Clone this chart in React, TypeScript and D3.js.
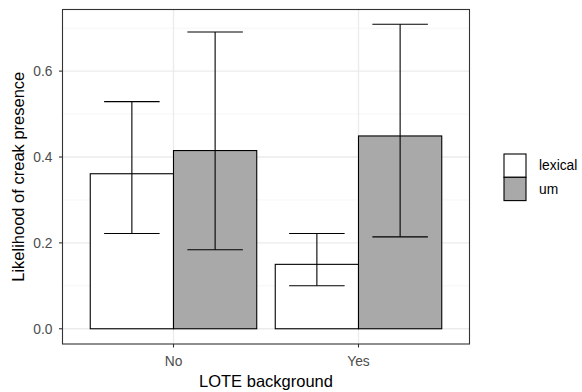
import React from "react";
import * as d3 from "d3";

const categories = ["No", "Yes"];
const groups = ["lexical", "um"];
const means = [
  [0.361, 0.415],
  [0.150, 0.449],
];
const lower = [
  [0.222, 0.184],
  [0.100, 0.214],
];
const upper = [
  [0.529, 0.691],
  [0.222, 0.709],
];
const yTicks = [0, 0.2, 0.4, 0.6];
const yMinor = [0.1, 0.3, 0.5, 0.7];
const fills = ["#FFFFFF", "#A9A9A9"];

const width = 582;
const height = 392;
const panel = { left: 62.5, right: 469.5, top: 9.5, bottom: 344 };
const font = "'Liberation Sans', Arial, Helvetica, sans-serif";

const App = () => {
  const x = d3
    .scalePoint()
    .domain(categories)
    .range([panel.left, panel.right])
    .padding(0.6);
  const unit = x.step();
  const yScale = d3
    .scaleLinear()
    .domain([-0.0355, 0.7435])
    .range([panel.bottom, panel.top]);
  const barW = (unit * 0.9) / groups.length;
  const errW = unit * 0.3;

  return (
    <svg
      width={width}
      height={height}
      style={{ position: "absolute", left: 0, top: 0, background: "#fff" }}
      fontFamily={font}
    >
      {/* grid */}
      {yMinor.map((t) => (
        <line
          key={"mi" + t}
          x1={panel.left}
          x2={panel.right}
          y1={yScale(t)}
          y2={yScale(t)}
          stroke="#F2F2F2"
          strokeWidth={0.7}
        />
      ))}
      {yTicks.map((t) => (
        <line
          key={"ma" + t}
          x1={panel.left}
          x2={panel.right}
          y1={yScale(t)}
          y2={yScale(t)}
          stroke="#EBEBEB"
          strokeWidth={1.3}
        />
      ))}
      {categories.map((c) => (
        <line
          key={"gx" + c}
          x1={x(c)}
          x2={x(c)}
          y1={panel.top}
          y2={panel.bottom}
          stroke="#EBEBEB"
          strokeWidth={1.3}
        />
      ))}

      {/* bars */}
      {categories.map((c, i) => (
        <g key={c}>
          {groups.map((g, j) => {
            const x0 = (x(c) as number) - (unit * 0.9) / 2 + j * barW;
            return (
              <rect
                key={g}
                x={x0}
                y={yScale(means[i][j])}
                width={barW}
                height={yScale(0) - yScale(means[i][j])}
                fill={fills[j]}
                stroke="#000"
                strokeWidth={1.1}
              />
            );
          })}
        </g>
      ))}

      {/* error bars */}
      {categories.map((c, i) => (
        <g key={"e" + c}>
          {groups.map((g, j) => {
            const cx = (x(c) as number) - (unit * 0.9) / 2 + j * barW + barW / 2;
            const yl = yScale(lower[i][j]);
            const yu = yScale(upper[i][j]);
            return (
              <g key={g} stroke="#000" strokeWidth={1.1}>
                <line x1={cx} x2={cx} y1={yl} y2={yu} />
                <line x1={cx - errW / 2} x2={cx + errW / 2} y1={yl} y2={yl} />
                <line x1={cx - errW / 2} x2={cx + errW / 2} y1={yu} y2={yu} />
              </g>
            );
          })}
        </g>
      ))}

      {/* panel border */}
      <rect
        x={panel.left}
        y={panel.top}
        width={panel.right - panel.left}
        height={panel.bottom - panel.top}
        fill="none"
        stroke="#333333"
        strokeWidth={1.1}
      />

      {/* y axis */}
      {yTicks.map((t) => (
        <g key={"yt" + t}>
          <line
            x1={panel.left - 3.5}
            x2={panel.left}
            y1={yScale(t)}
            y2={yScale(t)}
            stroke="#333333"
            strokeWidth={1.1}
          />
          <text
            x={panel.left - 10}
            y={yScale(t)}
            dy="0.35em"
            textAnchor="end"
            fontSize={13.8}
            fill="#4D4D4D"
          >
            {d3.format(".1f")(t)}
          </text>
        </g>
      ))}

      {/* x axis */}
      {categories.map((c) => (
        <g key={"xt" + c}>
          <line
            x1={x(c)}
            x2={x(c)}
            y1={panel.bottom}
            y2={panel.bottom + 3.5}
            stroke="#333333"
            strokeWidth={1.1}
          />
          <text
            x={x(c)}
            y={panel.bottom + 17}
            dy="0.35em"
            textAnchor="middle"
            fontSize={13.8}
            fill="#4D4D4D"
          >
            {c}
          </text>
        </g>
      ))}

      <text
        x={(panel.left + panel.right) / 2}
        y={381}
        dy="0.35em"
        textAnchor="middle"
        fontSize={16.5}
        fill="#000"
      >
        LOTE background
      </text>
      <text
        transform={`translate(18,${(panel.top + panel.bottom) / 2}) rotate(-90)`}
        dy="0.35em"
        textAnchor="middle"
        fontSize={16.5}
        fill="#000"
      >
        Likelihood of creak presence
      </text>

      {/* legend */}
      {groups.map((g, j) => (
        <g key={"lg" + g}>
          <rect
            x={504}
            y={154 + j * 23.3}
            width={22}
            height={23.3}
            fill={fills[j]}
            stroke="#000"
            strokeWidth={1.1}
          />
          <text
            x={539}
            y={165.5 + j * 23.3}
            dy="0.35em"
            fontSize={13.8}
            fill="#000"
          >
            {g}
          </text>
        </g>
      ))}
    </svg>
  );
};

export default App;
